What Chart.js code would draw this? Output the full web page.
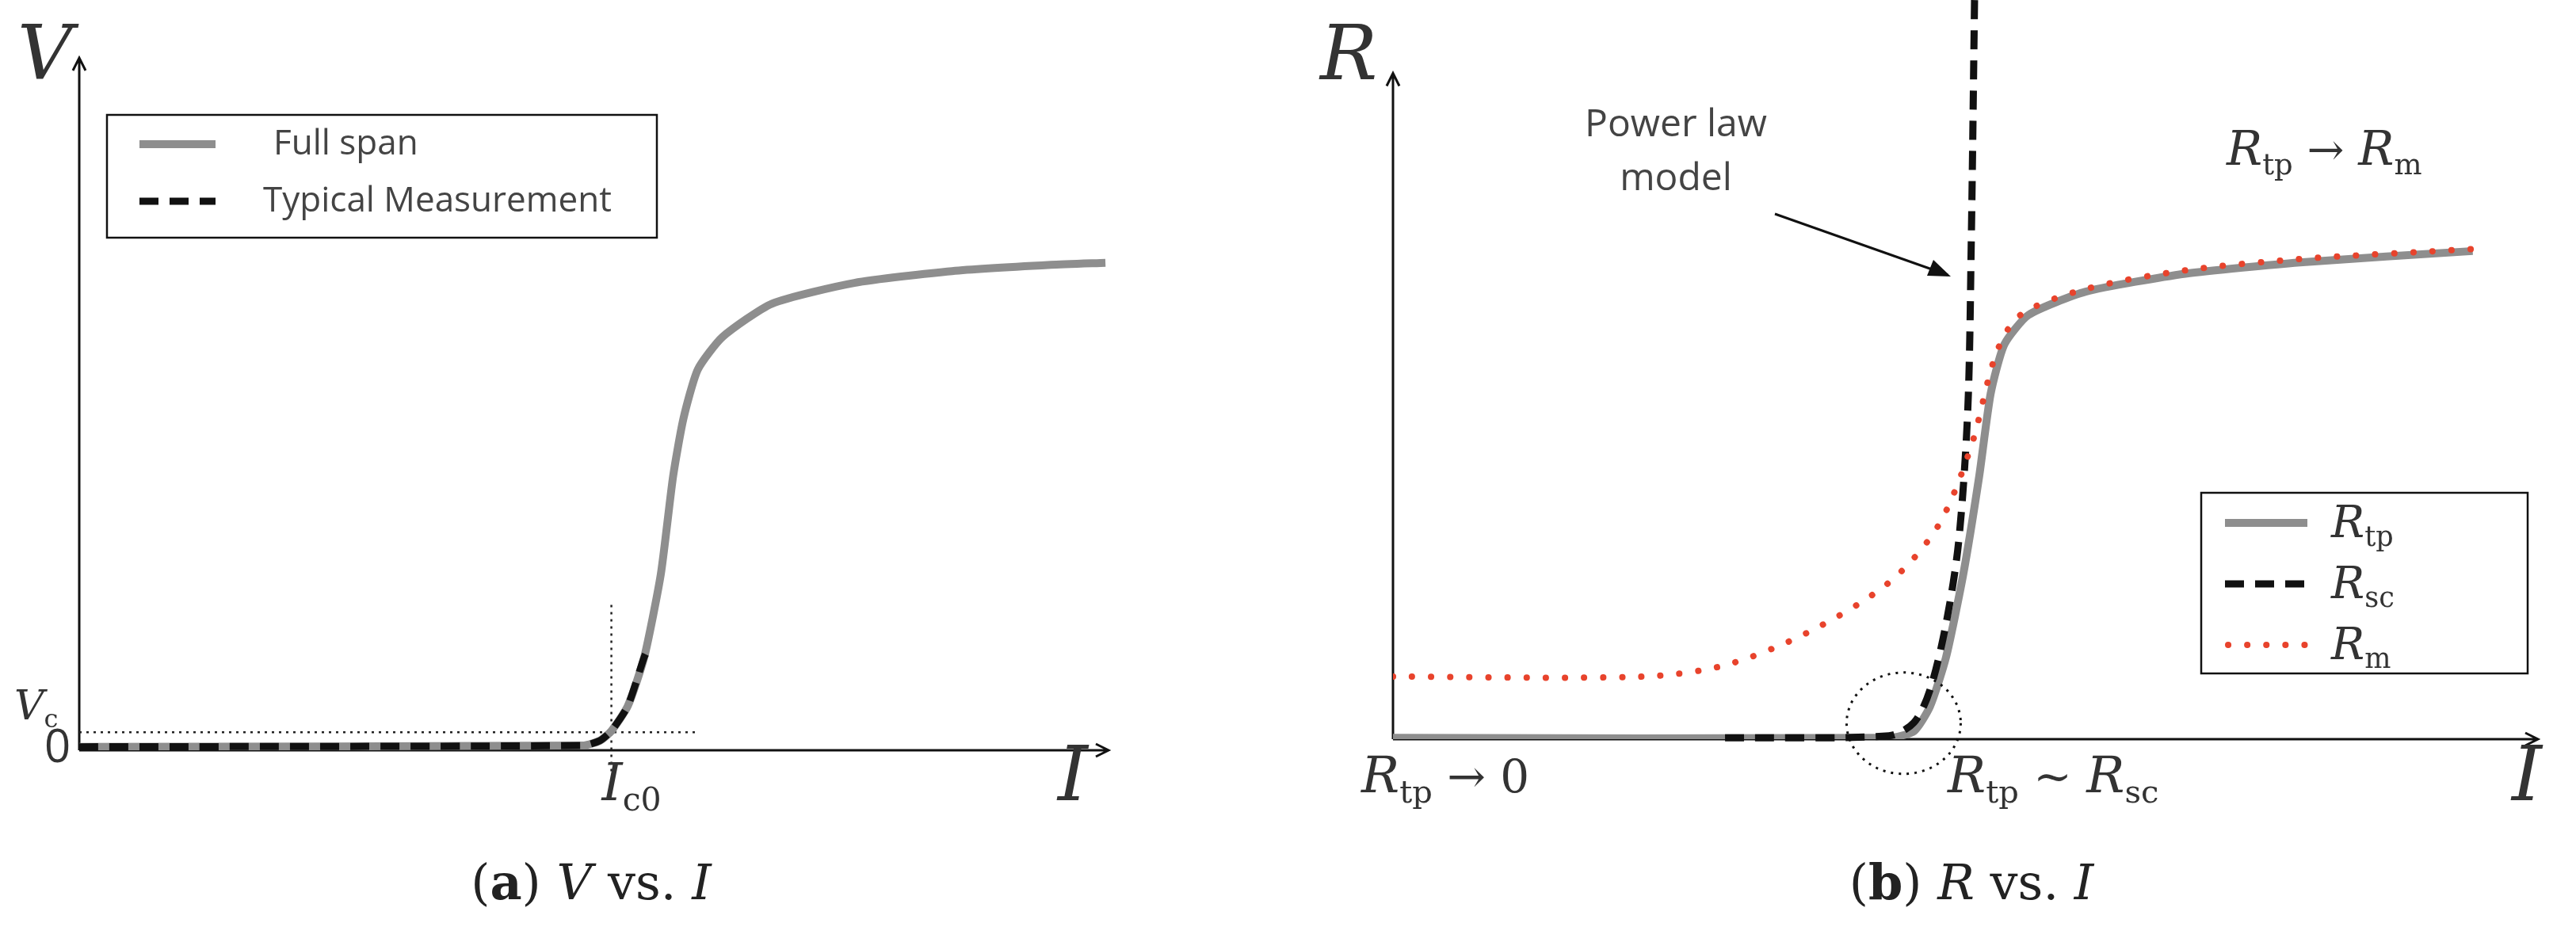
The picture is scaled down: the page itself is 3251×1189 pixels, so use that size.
<!DOCTYPE html>
<html>
<head>
<meta charset="utf-8">
<script src="https://cdn.jsdelivr.net/npm/chart.js@4/dist/chart.umd.min.js"></script>
<style>
  html, body { margin: 0; padding: 0; background: #fff; }
  #wrap { position: relative; width: 3251px; height: 1189px; }
  canvas { position: absolute; top: 0; }
</style>
</head>
<body>
<div id="wrap">
  <canvas id="chartVI" style="left:0px" width="1620" height="1189"></canvas>
  <canvas id="chartRI" style="left:1650px" width="1601" height="1189"></canvas>
</div>
<script>
// (a) V vs I
const fullSpanX = [0, 49, 50.6, 51.7, 53.3, 54.9, 56.5, 57.7, 58.7, 60.1, 62.5, 67.3, 75.3, 84.8, 94.4, 99.7];
const fullSpanY = [0.5, 0.7, 1.4, 2.8, 6.4, 13.5, 25.4, 39.6, 47.9, 55, 59.7, 64.5, 67.5, 69.2, 70.1, 70.4];
const typicalX = [0, 49, 50.6, 51.7, 53.3, 54.9, 55.4];
const typicalY = [0.5, 0.7, 1.4, 2.8, 6.4, 13.5, 15];
const ic0 = 51.7;
const vc = 2.6;

// (b) R vs I
const rtpX = [0, 43.3, 45.5, 46.9, 48.3, 49.8, 51.2, 52.2, 53.4, 55.5, 60.5, 69.2, 79.2, 94.3];
const rtpY = [0.2, 0.2, 1.2, 4.9, 12.3, 24.7, 39.5, 51.9, 59.3, 63.7, 67.2, 69.9, 71.6, 73.3];
const rscX = [29, 43.3, 45.5, 46.9, 48.3, 49.4, 50.2, 50.5, 50.8];
const rscY = [0.2, 0.5, 2.5, 7.4, 17.3, 29.6, 49.4, 74, 112];
const rmX = [0, 21.8, 29, 36.2, 43.3, 47.6, 50.5, 52.7, 54.8, 60.5, 69.2, 79.2, 94.3];
const rmY = [9.4, 9.4, 11.1, 16, 23.5, 32, 44, 58, 63.7, 67.6, 70.4, 72.1, 73.6];

const GRAY = '#8e8e8e';
const RED = '#e8432c';
const SERIF = '"DejaVu Serif", "Liberation Serif", serif';
const SANS = '"Open Sans", "Liberation Sans", sans-serif';

const pts = (xs, ys) => xs.map((x, i) => ({ x: x, y: ys[i] }));

function axisArrows(ctx, s) {
  const x0 = s.x.getPixelForValue(0), y0 = s.y.getPixelForValue(0);
  const x1 = s.x.getPixelForValue(100), y1 = s.y.getPixelForValue(100);
  ctx.save();
  ctx.strokeStyle = '#111';
  ctx.lineWidth = 3;
  ctx.beginPath();
  ctx.moveTo(x0, y0); ctx.lineTo(x1, y0);
  ctx.moveTo(x1 - 16, y0 - 8); ctx.lineTo(x1, y0); ctx.lineTo(x1 - 16, y0 + 8);
  ctx.moveTo(x0, y0); ctx.lineTo(x0, y1);
  ctx.moveTo(x0 - 8, y1 + 16); ctx.lineTo(x0, y1); ctx.lineTo(x0 + 8, y1 + 16);
  ctx.stroke();
  ctx.restore();
}

// italic main letter + upright subscript, returns width
function symbol(ctx, main, sub, x, y, size, align) {
  ctx.save();
  ctx.textBaseline = 'alphabetic';
  ctx.font = 'italic ' + size + 'px ' + SERIF;
  const w1 = ctx.measureText(main).width;
  ctx.font = Math.round(size * 0.62) + 'px ' + SERIF;
  const w2 = sub ? ctx.measureText(sub).width : 0;
  let sx = x;
  if (align === 'center') sx = x - (w1 + w2) / 2;
  ctx.fillStyle = '#333';
  ctx.font = 'italic ' + size + 'px ' + SERIF;
  ctx.fillText(main, sx, y);
  if (sub) {
    ctx.font = Math.round(size * 0.62) + 'px ' + SERIF;
    ctx.fillText(sub, sx + w1, y + size * 0.2);
  }
  ctx.restore();
  return w1 + w2;
}

function legendBox(ctx, box, entries, fontFn) {
  ctx.save();
  ctx.strokeStyle = '#111';
  ctx.lineWidth = 2.5;
  ctx.strokeRect(box[0], box[1], box[2], box[3]);
  entries.forEach(e => {
    ctx.beginPath();
    ctx.strokeStyle = e.color;
    ctx.lineWidth = e.width;
    ctx.lineCap = e.cap || 'butt';
    ctx.setLineDash(e.dash || []);
    ctx.moveTo(e.x1, e.y); ctx.lineTo(e.x2, e.y);
    ctx.stroke();
    ctx.setLineDash([]);
    fontFn(e);
  });
  ctx.restore();
}

function caption(ctx, letter, sym, cx, y) {
  ctx.save();
  ctx.fillStyle = '#222';
  ctx.textBaseline = 'alphabetic';
  const parts = [
    ['(', '62px ' + SERIF], ['' + letter, 'bold 62px ' + SERIF], [') ', '62px ' + SERIF],
    [sym, 'italic 62px ' + SERIF], [' vs. ', '62px ' + SERIF], ['I', 'italic 62px ' + SERIF]
  ];
  let total = 0;
  parts.forEach(p => { ctx.font = p[1]; total += ctx.measureText(p[0]).width; });
  let x = cx - total / 2;
  parts.forEach(p => { ctx.font = p[1]; ctx.fillText(p[0], x, y); x += ctx.measureText(p[0]).width; });
  ctx.restore();
}

const hiddenScales = (ymax) => ({
  x: { type: 'linear', min: 0, max: 100, display: false },
  y: { type: 'linear', min: 0, max: ymax, display: false }
});

const annotVI = {
  id: 'annotVI',
  beforeDatasetsDraw(chart) {
    const ctx = chart.ctx, s = chart.scales;
    axisArrows(ctx, s);
    const xi = s.x.getPixelForValue(ic0), yv = s.y.getPixelForValue(vc);
    ctx.save();
    ctx.strokeStyle = '#222';
    ctx.lineWidth = 2.5;
    ctx.setLineDash([3, 6]);
    ctx.beginPath();
    ctx.moveTo(xi, s.y.getPixelForValue(21)); ctx.lineTo(xi, s.y.getPixelForValue(-3.5));
    ctx.moveTo(s.x.getPixelForValue(0), yv); ctx.lineTo(s.x.getPixelForValue(60), yv);
    ctx.stroke();
    ctx.restore();
  },
  afterDatasetsDraw(chart) {
    const ctx = chart.ctx, s = chart.scales;
    symbol(ctx, 'V', null, 22, 100, 96);
    symbol(ctx, 'V', 'c', 18, 908, 52);
    ctx.save();
    ctx.fillStyle = '#333';
    ctx.font = '58px ' + SANS;
    ctx.fillText('0', 56, 962);
    ctx.restore();
    symbol(ctx, 'I', 'c0', s.x.getPixelForValue(ic0) - 12, 1010, 66);
    symbol(ctx, 'I', null, 1335, 1010, 96);
    legendBox(ctx, [135, 145, 694, 155], [
      { color: GRAY, width: 10, x1: 176, x2: 272, y: 182, label: 'Full span' },
      { color: '#111', width: 9, dash: [24, 14], x1: 176, x2: 272, y: 254, label: 'Typical Measurement' }
    ], e => {
      ctx.fillStyle = '#444';
      ctx.font = '44px ' + SANS;
      ctx.textBaseline = 'middle';
      ctx.fillText(e.label, e.label === 'Full span' ? 345 : 332, e.y);
    });
    caption(ctx, 'a', 'V', 746, 1135);
  }
};

const annotRI = {
  id: 'annotRI',
  beforeDatasetsDraw(chart) {
    axisArrows(chart.ctx, chart.scales);
  },
  afterDatasetsDraw(chart) {
    const ctx = chart.ctx, s = chart.scales;
    symbol(ctx, 'R', null, 16, 100, 96);
    symbol(ctx, 'I', null, 1520, 1010, 96);
    // circle around the crossover
    ctx.save();
    ctx.strokeStyle = '#111';
    ctx.lineWidth = 3;
    ctx.setLineDash([3, 7]);
    ctx.beginPath();
    ctx.ellipse(s.x.getPixelForValue(44.6), s.y.getPixelForValue(2.4), 72, 64, 0, 0, Math.PI * 2);
    ctx.stroke();
    ctx.restore();
    // R_tp -> 0
    let w = symbol(ctx, 'R', 'tp', 68, 1000, 64);
    ctx.save(); ctx.fillStyle = '#333'; ctx.font = '58px ' + SERIF;
    ctx.fillText(' \u2192 0', 68 + w, 1000); ctx.restore();
    // R_tp ~ R_sc
    w = symbol(ctx, 'R', 'tp', 808, 1000, 64);
    ctx.save(); ctx.fillStyle = '#333'; ctx.font = '58px ' + SERIF;
    ctx.fillText(' ~ ', 808 + w, 1000);
    const w2 = ctx.measureText(' ~ ').width; ctx.restore();
    symbol(ctx, 'R', 'sc', 808 + w + w2, 1000, 64);
    // R_tp -> R_m
    w = symbol(ctx, 'R', 'tp', 1160, 208, 60);
    ctx.save(); ctx.fillStyle = '#333'; ctx.font = '56px ' + SERIF;
    ctx.fillText(' \u2192 ', 1160 + w, 208);
    const w3 = ctx.measureText(' \u2192 ').width; ctx.restore();
    symbol(ctx, 'R', 'm', 1160 + w + w3, 208, 60);
    // Power law model
    ctx.save();
    ctx.fillStyle = '#444';
    ctx.font = '48px ' + SANS;
    ctx.textAlign = 'center';
    ctx.fillText('Power law', 465, 172);
    ctx.fillText('model', 465, 240);
    ctx.strokeStyle = '#111';
    ctx.lineWidth = 3;
    ctx.beginPath();
    ctx.moveTo(590, 270); ctx.lineTo(808, 347);
    ctx.stroke();
    ctx.beginPath();
    ctx.moveTo(812, 349); ctx.lineTo(782, 348); ctx.lineTo(790, 328); ctx.closePath();
    ctx.fillStyle = '#111'; ctx.fill();
    ctx.restore();
    legendBox(ctx, [1128, 622, 412, 228], [
      { color: GRAY, width: 10, x1: 1158, x2: 1262, y: 660, sym: ['R', 'tp'] },
      { color: '#111', width: 9, dash: [24, 14], x1: 1158, x2: 1262, y: 737, sym: ['R', 'sc'] },
      { color: RED, width: 8, cap: 'round', dash: [0.1, 24], x1: 1162, x2: 1262, y: 814, sym: ['R', 'm'] }
    ], e => symbol(ctx, e.sym[0], e.sym[1], 1292, e.y + 18, 56));
    caption(ctx, 'b', 'R', 838, 1135);
  }
};

new Chart(document.getElementById('chartVI'), {
  type: 'line',
  data: {
    datasets: [
      { label: 'Full span', data: pts(fullSpanX, fullSpanY), borderColor: GRAY, borderWidth: 10, pointRadius: 0, tension: 0.2, order: 2 },
      { label: 'Typical Measurement', data: pts(typicalX, typicalY), borderColor: '#111', borderWidth: 9, borderDash: [24, 14], pointRadius: 0, tension: 0.2, order: 1 }
    ]
  },
  options: {
    responsive: false, animation: false, devicePixelRatio: 1,
    layout: { padding: { left: 100, top: 73, right: 221, bottom: 242 } },
    scales: hiddenScales(100),
    plugins: { legend: { display: false }, tooltip: { enabled: false } }
  },
  plugins: [annotVI]
});

new Chart(document.getElementById('chartRI'), {
  type: 'line',
  data: {
    datasets: [
      { label: 'R_tp', data: pts(rtpX, rtpY), borderColor: GRAY, borderWidth: 10, pointRadius: 0, tension: 0.2, order: 3 },
      { label: 'R_sc', data: pts(rscX, rscY), borderColor: '#111', borderWidth: 9, borderDash: [24, 14], pointRadius: 0, tension: 0.3, order: 2, clip: false },
      { label: 'R_m', data: pts(rmX, rmY), borderColor: RED, borderWidth: 8, borderCapStyle: 'round', borderDash: [0.1, 24], pointRadius: 0, tension: 0.3, order: 1 }
    ]
  },
  options: {
    responsive: false, animation: false, devicePixelRatio: 1,
    layout: { padding: { left: 108, top: 0, right: 48, bottom: 256 } },
    scales: hiddenScales(111),
    plugins: { legend: { display: false }, tooltip: { enabled: false } }
  },
  plugins: [annotRI]
});
</script>
</body>
</html>
